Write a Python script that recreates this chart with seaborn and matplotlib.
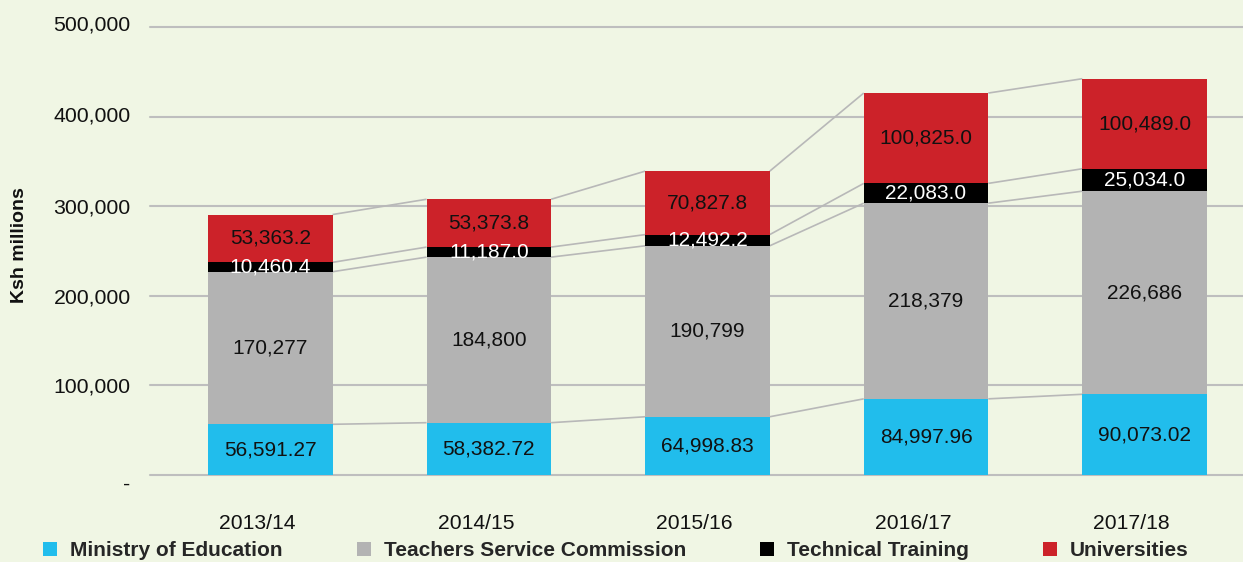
#!/usr/bin/env python3

import matplotlib
matplotlib.use('Agg')
import matplotlib.pyplot as plt
import matplotlib.transforms as mtransforms
from matplotlib.patches import Patch
from matplotlib.ticker import FuncFormatter
import seaborn as sns
import numpy as np
import pandas as pd

#-----------
# DATA
#-----------
years = ['2013/14', '2014/15', '2015/16', '2016/17', '2017/18']
ministry = [56591.27, 58382.72, 64998.83, 84997.96, 90073.02]
tsc = [170277, 184800, 190799, 218379, 226686]
technical = [10460.4, 11187.0, 12492.2, 22083.0, 25034.0]
universities = [53363.2, 53373.8, 70827.8, 100825.0, 100489.0]

series_names = ['Ministry of Education', 'Teachers Service Commission', 'Technical Training', 'Universities']
label_fmt = ['{:,.2f}', '{:,.0f}', '{:,.1f}', '{:,.1f}']

#-----------
# STYLE
#-----------
BG = '#F0F6E4'
COLORS = ['#21BDEC', '#B3B3B3', '#000000', '#CC2229']
TEXT_COLORS = ['#111111', '#111111', '#FFFFFF', '#111111']
GRID = '#BEBEBE'
BAR_W = 0.57

sns.set_theme(style='white')
plt.rcParams['font.family'] = ['Liberation Sans', 'DejaVu Sans']

#-----------
# PLOT
#-----------
df = pd.DataFrame({'year': years, 'ministry': ministry, 'tsc': tsc,
                   'technical': technical, 'universities': universities})
layers = ['ministry', 'tsc', 'technical', 'universities']
cum = df[layers].cumsum(axis=1)

fig = plt.figure(figsize=(12.43, 5.62), dpi=100)
fig.patch.set_facecolor(BG)
ax = fig.add_axes([150/1243, 1 - 475/562, 1093/1243, 448/562])
ax.set_facecolor(BG)

# gridlines under everything
for v in [0, 100000, 200000, 300000, 400000, 500000]:
  ax.axhline(v, color=GRID, lw=1.5, zorder=0, clip_on=False)

# stacked bars: draw cumulative totals tallest first so shorter ones sit on top
for i in reversed(range(len(layers))):
  sns.barplot(x=df['year'], y=cum[layers[i]], color=COLORS[i], width=BAR_W,
              saturation=1, order=years, ax=ax, zorder=2, linewidth=0)

# connector lines between neighbouring bars
xs = np.arange(len(years))
for k in range(len(layers)):
  tops = cum[layers[k]].values
  for i in range(len(years) - 1):
    ax.plot([xs[i] + BAR_W/2, xs[i+1] - BAR_W/2], [tops[i], tops[i+1]],
            color='#B8B8B8', lw=1.2, zorder=1, solid_capstyle='butt')

# value labels in the middle of each segment
for k in range(len(layers)):
  lower = cum[layers[k-1]].values if k > 0 else np.zeros(len(years))
  vals = df[layers[k]].values
  for i in range(len(years)):
    ax.text(xs[i], lower[i] + vals[i]/2, label_fmt[k].format(vals[i]),
            ha='center', va='center', fontsize=15, color=TEXT_COLORS[k], zorder=3)

ax.set_xlim(-0.55, 4.45)
ax.set_ylim(0, 500000)
for s in ax.spines.values():
  s.set_visible(False)

ax.yaxis.set_major_formatter(FuncFormatter(lambda v, p: '-' if v == 0 else f'{v:,.0f}'))
ax.set_yticks([0, 100000, 200000, 300000, 400000, 500000])
ax.tick_params(axis='y', length=0, pad=14, labelsize=15.3, labelcolor='#111111')
ax.tick_params(axis='x', length=0, pad=28, labelsize=15.2, labelcolor='#111111')
offset = mtransforms.ScaledTranslation(-13/100, 0, fig.dpi_scale_trans)
for lbl in ax.get_xticklabels():
  lbl.set_transform(lbl.get_transform() + offset)
# the top labels sit a little above their lines, the zero dash a little below
for lbl, dy in zip(ax.get_yticklabels(), [-7, 0, 0, 0, 3, 4]):
  lbl.set_transform(lbl.get_transform() + mtransforms.ScaledTranslation(0, dy/100, fig.dpi_scale_trans))

ax.set_xlabel('')
ax.set_ylabel('Ksh millions', fontsize=14, fontweight='bold', color='#111111')
ax.yaxis.set_label_coords((28 - 150)/1093, (475 - 245)/448)

handles = [Patch(facecolor=c, edgecolor='none') for c in COLORS]
fig.legend(handles, series_names, loc='center left', bbox_to_anchor=(43/1243, 1 - 551/562),
           ncol=4, frameon=False, borderpad=0, borderaxespad=0,
           handlelength=0.68, handleheight=0.68, handletextpad=0.62, columnspacing=3.55,
           prop={'weight': 'bold', 'size': 15})

fig.savefig('out.png', dpi=100, facecolor=BG)
